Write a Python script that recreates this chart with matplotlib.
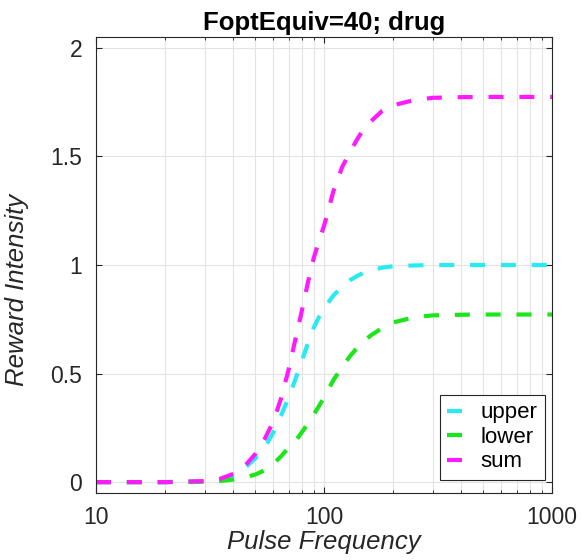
import matplotlib
matplotlib.use("Agg")
import matplotlib.pyplot as plt
import numpy as np

plt.rcParams['font.family'] = ['Liberation Sans', 'DejaVu Sans']

# Pulsfrekvenser och avlästa värden för varje kurva
freq = [10, 20, 30, 35, 40, 45, 50, 55, 60, 65, 70, 75, 80, 85, 90, 95, 100,
        110, 120, 130, 140, 150, 160, 180, 200, 250, 300, 400, 500, 700, 1000]
upper = [0, 0, 0.004, 0.012, 0.03, 0.065, 0.11, 0.16, 0.23, 0.31, 0.39, 0.475,
         0.56, 0.64, 0.71, 0.76, 0.8, 0.86, 0.9, 0.93, 0.95, 0.965, 0.975,
         0.988, 0.994, 0.998, 1.0, 1.0, 1.0, 1.0, 1.0]
lower = [0, 0, 0.002, 0.005, 0.012, 0.022, 0.035, 0.055, 0.085, 0.12, 0.16,
         0.19, 0.23, 0.27, 0.31, 0.35, 0.39, 0.47, 0.53, 0.58, 0.62, 0.65,
         0.675, 0.71, 0.735, 0.76, 0.768, 0.771, 0.772, 0.772, 0.772]
total = [0, 0, 0.005, 0.015, 0.038, 0.075, 0.13, 0.2, 0.28, 0.39, 0.52, 0.66,
         0.79, 0.92, 1.03, 1.11, 1.18, 1.34, 1.45, 1.52, 1.58, 1.63, 1.66,
         1.71, 1.735, 1.76, 1.77, 1.773, 1.774, 1.774, 1.774]

fig = plt.figure(figsize=(5.81, 5.6), dpi=100)
ax = fig.add_axes([96 / 581, 67 / 560, 456 / 581, 456 / 560])

dash = (0, (3.6, 3.8))
ax.plot(freq, upper, color=(0.15, 0.92, 0.95), lw=3, ls=dash, label='upper')
ax.plot(freq, lower, color=(0.1, 0.9, 0.1), lw=3, ls=dash, label='lower')
ax.plot(freq, total, color=(1, 0.1, 1), lw=3, ls=dash, label='sum')

ax.set_xscale('log')
ax.set_xlim(10, 1000)
ax.set_ylim(-0.05, 2.05)
ax.set_xticks([10, 100, 1000])
ax.set_xticklabels(['10', '100', '1000'])
ax.set_xticks([m * d for d in (10, 100) for m in range(2, 10)], minor=True)
ax.xaxis.set_minor_formatter(matplotlib.ticker.NullFormatter())
ax.set_yticks([0, 0.5, 1, 1.5, 2])
ax.set_yticklabels(['0', '0.5', '1', '1.5', '2'])

ax.grid(True, which='both', color='#e3e3e3', lw=0.8)
ax.set_axisbelow(True)
ax.tick_params(which='both', direction='in', top=True, right=True,
               labelsize=16.5, colors='#262626', length=4)
ax.tick_params(axis='x', pad=9)
ax.tick_params(axis='y', pad=10)
ax.tick_params(which='minor', length=2.5)
for s in ax.spines.values():
    s.set_color('#262626')
    s.set_linewidth(0.8)

ax.set_title('FoptEquiv=40; drug', fontsize=18.5, fontweight='bold', pad=5)
ax.set_xlabel('Pulse Frequency', fontsize=18.5, style='italic', color='#262626', labelpad=1)
ax.set_ylabel('Reward Intensity', fontsize=18.5, style='italic', color='#262626', labelpad=6)
ax.yaxis.set_label_coords(-0.148, 0.445)

leg = ax.legend(loc='lower right', bbox_to_anchor=(0.985, 0.028), fontsize=16,
                handlelength=0.77, handletextpad=0.72, borderpad=0.35,
                labelspacing=0.16, borderaxespad=0, fancybox=False,
                edgecolor='#262626', framealpha=1)
leg.get_frame().set_linewidth(0.8)

fig.savefig('out.png', dpi=100)
